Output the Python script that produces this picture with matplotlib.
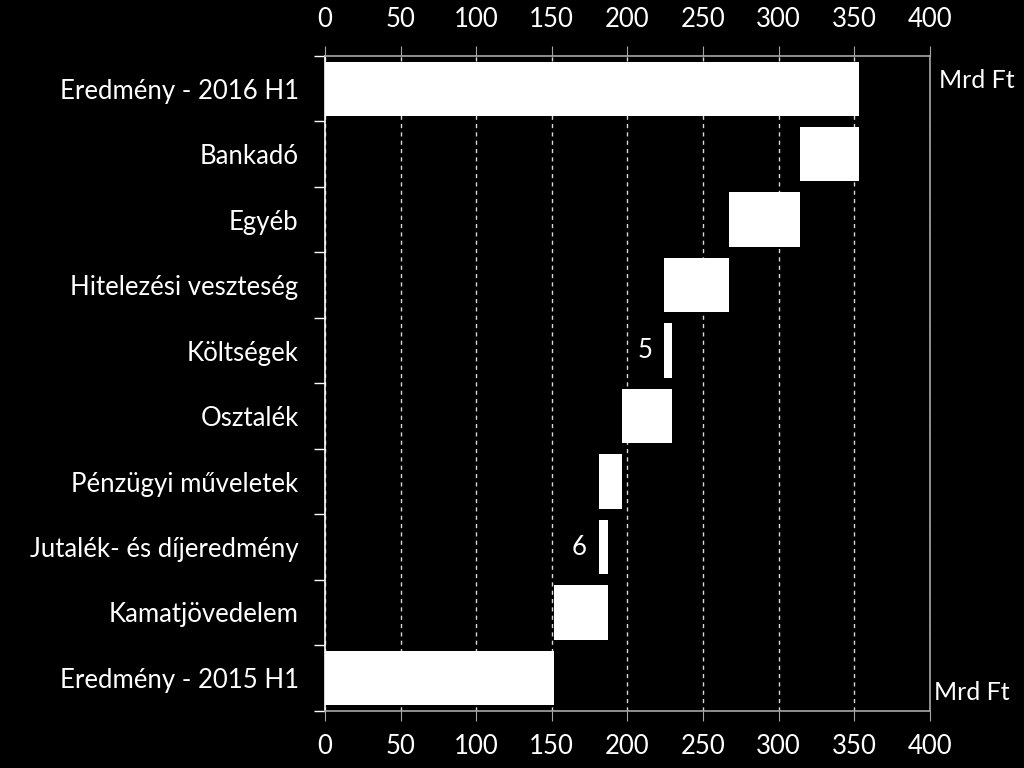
import matplotlib.pyplot as plt
import numpy as np

plt.rcParams['font.family'] = ['Lato', 'DejaVu Sans']

# categories, top to bottom
categories = ['Eredmény - 2016 H1', 'Bankadó', 'Egyéb', 'Hitelezési veszteség', 'Költségek',
              'Osztalék', 'Pénzügyi műveletek', 'Jutalék- és díjeredmény', 'Kamatjövedelem',
              'Eredmény - 2015 H1']
# bar start and end (Mrd Ft)
bar_start = [0, 314.5, 267.5, 224.5, 224.5, 196.5, 181, 181, 151.5, 0]
bar_end = [353.5, 353.5, 314.5, 267.5, 229.5, 229.5, 196.5, 187, 187, 151.5]
# small labels shown next to the narrow bars
small_labels = {'Költségek': '5', 'Jutalék- és díjeredmény': '6'}
xticks = [0, 50, 100, 150, 200, 250, 300, 350, 400]

grey = '#a6a6a6'
fig = plt.figure(figsize=(10.24, 7.68), dpi=100, facecolor='black')
ax = fig.add_axes([0.3174, 0.0746, 0.5905, 0.8525], facecolor='black')

y = np.arange(len(categories))
widths = np.array(bar_end) - np.array(bar_start)
ax.barh(y, widths, left=bar_start, height=0.83, color='white', zorder=3)

for i, cat in enumerate(categories):
    if cat in small_labels:
        ax.text(bar_start[i] - 8, i, small_labels[cat], color='white', fontsize=18.5,
                ha='right', va='center', zorder=4)

ax.set_xlim(0, 400)
ax.set_ylim(len(categories) - 0.5, -0.5)
ax.set_xticks(xticks)
ax.set_xticklabels([str(t) for t in xticks])
ax.set_yticks(y)
ax.set_yticklabels(categories)
ax.set_yticks(np.arange(len(categories) + 1) - 0.5, minor=True)

ax.xaxis.grid(True, color='#d9d9d9', linestyle=(0, (3, 3)), linewidth=1, zorder=1)
ax.tick_params(axis='x', which='major', top=True, labeltop=True, bottom=True,
               direction='out', length=7, color=grey, colors='white', labelsize=18.5, pad=10)
ax.tick_params(axis='y', which='major', length=0, colors='white', labelsize=18.5, pad=19)
ax.tick_params(axis='y', which='minor', length=8, color='white', width=1)

for side in ['top', 'bottom', 'right']:
    ax.spines[side].set_color(grey)
ax.spines['left'].set_color('white')
for sp in ax.spines.values():
    sp.set_linewidth(1.2)

fig.text(0.917, 0.895, 'Mrd Ft', color='white', fontsize=18, ha='left', va='center')
fig.text(0.912, 0.098, 'Mrd Ft', color='white', fontsize=18, ha='left', va='center')

fig.savefig('out.png', dpi=100, facecolor='black')
